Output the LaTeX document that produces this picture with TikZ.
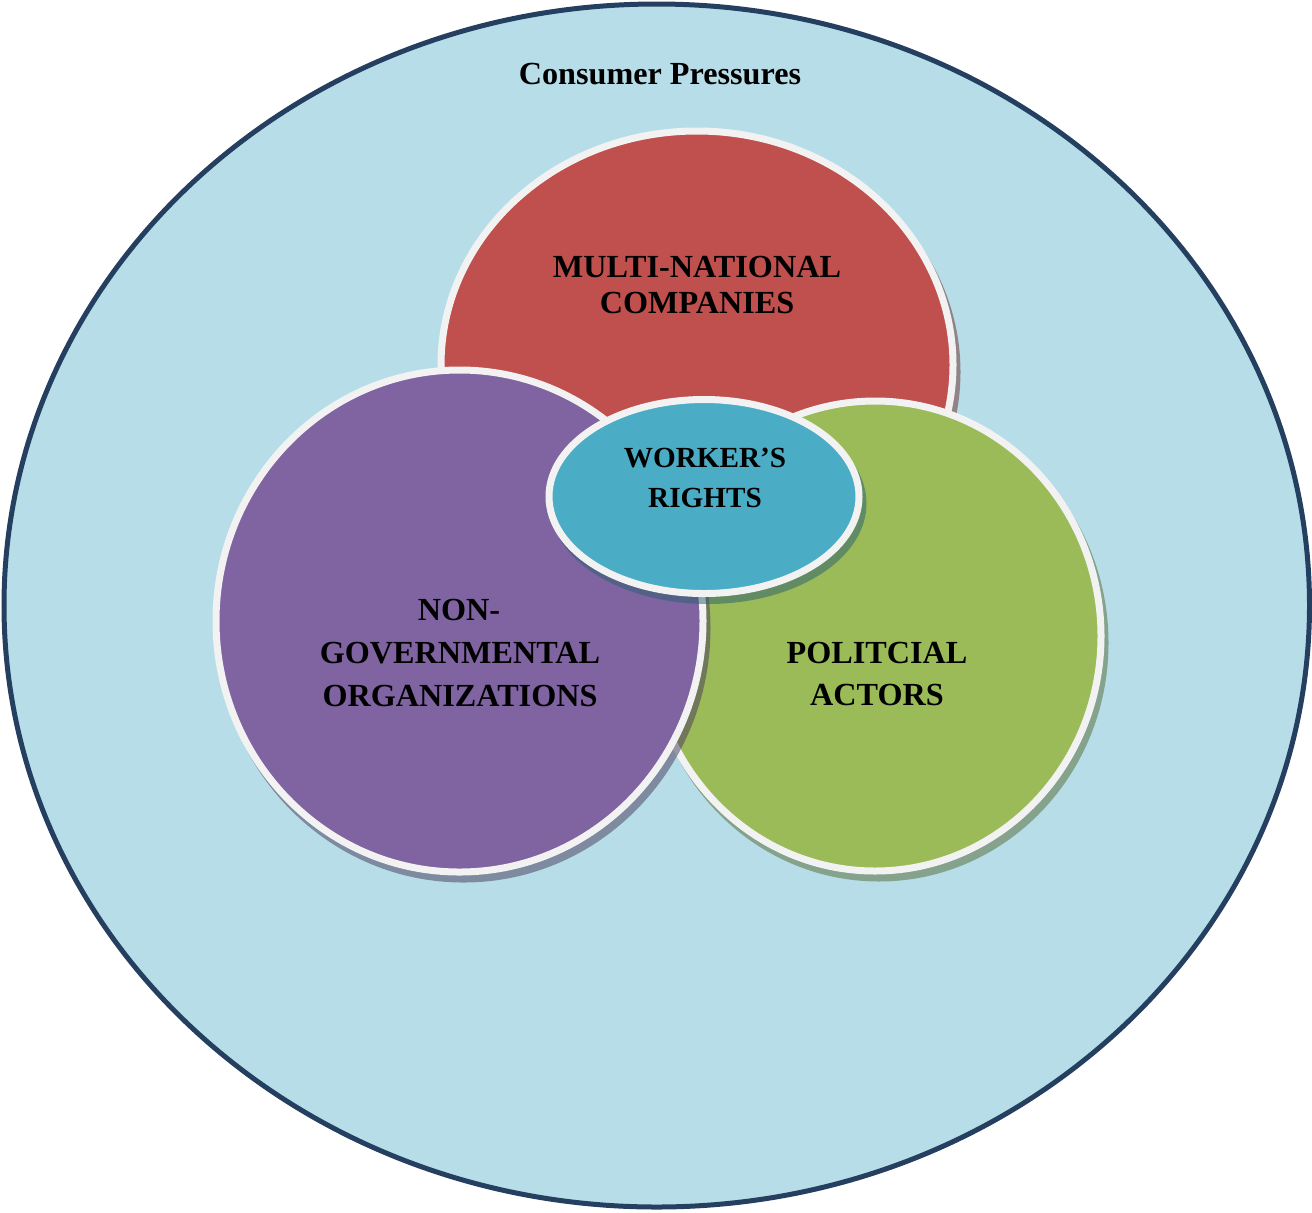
\documentclass[tikz,border=0pt]{standalone}
\usepackage{fontspec}
\setmainfont{Liberation Serif}
\definecolor{outerfill}{HTML}{B7DEE8}
\definecolor{outerline}{HTML}{243F60}
\definecolor{redc}{HTML}{C0504D}
\definecolor{purplec}{HTML}{8064A2}
\definecolor{greenc}{HTML}{9BBB59}
\definecolor{bluec}{HTML}{4BACC6}
\definecolor{rimc}{HTML}{F2F2F2}
\begin{document}
\begin{tikzpicture}[x=0.5pt,y=-0.5pt,
  rim/.style={draw=rimc,line width=3.5pt},
  shade/.style={fill=#1!55!black,opacity=0.5},
  lbl/.style={anchor=base,font=\fontsize{16.1}{18}\selectfont\bfseries,inner sep=0pt},
  smalllbl/.style={lbl,font=\fontsize{14.6}{17}\selectfont\bfseries}]
\useasboundingbox (0,0) rectangle (1312,1212);
% outer ellipse
\draw[fill=outerfill,draw=outerline,line width=2.5pt] (656.75,605.5) ellipse [x radius=652.75, y radius=601.5];
\node[lbl] (cp) at (660,84) {Consumer Pressures};
% red
\fill[shade=redc] (701,372) ellipse [x radius=259.5, y radius=237.5];
\fill[redc] (697,365) ellipse [x radius=256, y radius=234];
\draw[rim] (697,365) ellipse [x radius=256, y radius=234];
% green
\fill[shade=greenc] (879,643) ellipse [x radius=229.5, y radius=238.5];
\fill[greenc] (875,636) ellipse [x radius=226, y radius=235];
\draw[rim] (875,636) ellipse [x radius=226, y radius=235];
% purple
\fill[shade=purplec] (463.5,628) ellipse [x radius=247, y radius=254.5];
\fill[purplec] (459.5,621) ellipse [x radius=243.5, y radius=251];
\draw[rim] (459.5,621) ellipse [x radius=243.5, y radius=251];
% worker's rights
\fill[shade=bluec] (708,503.5) ellipse [x radius=158.5, y radius=100.5];
\fill[bluec] (704,496.5) ellipse [x radius=155, y radius=97];
\draw[rim] (704,496.5) ellipse [x radius=155, y radius=97];
% labels
\node[lbl] (mnc1) at (697,277) {MULTI-NATIONAL};
\node[lbl] (mnc2) at (697,313) {COMPANIES};
\node[smalllbl] (wr1) at (705,467) {WORKER’S};
\node[smalllbl] (wr2) at (705,507) {RIGHTS};
\node[lbl] (ngo1) at (459,620) {NON-};
\node[lbl] (ngo2) at (460,663) {GOVERNMENTAL};
\node[lbl] (ngo3) at (460,706) {ORGANIZATIONS};
\node[lbl] (pa1) at (877,663) {POLITCIAL};
\node[lbl] (pa2) at (877,705) {ACTORS};
\end{tikzpicture}
\end{document}
